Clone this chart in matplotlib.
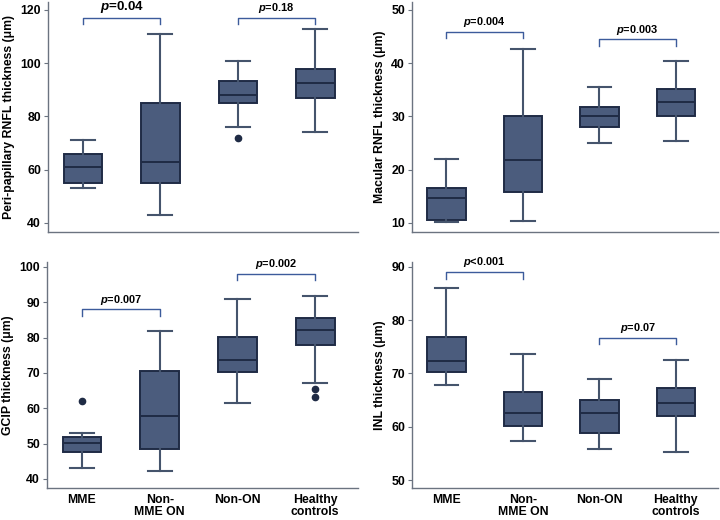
import matplotlib
matplotlib.use("Agg")
import matplotlib.pyplot as plt
import numpy as np

categories = ["MME", "Non-\nMME ON", "Non-ON", "Healthy\ncontrols"]

# stats per group: (whislo, q1, med, q3, whishi, fliers)
rnfl_stats = [(53, 55, 61, 66, 71, []),
              (43, 55, 63, 85, 111, []),
              (76, 85, 88, 93.4, 101, [72]),
              (74, 87, 92.5, 98, 113, [])]
mrnfl_stats = [(10.1, 10.6, 14.7, 16.6, 22, []),
               (10.4, 15.9, 21.9, 30, 42.6, []),
               (25, 28.1, 30, 31.8, 35.6, []),
               (25.4, 30.1, 32.8, 35.1, 40.4, [])]
gcip_stats = [(43.2, 47.6, 50.1, 51.9, 53.1, [62]),
              (42.3, 48.4, 57.8, 70.5, 81.8, []),
              (61.4, 70.2, 73.7, 80.2, 91, []),
              (67.1, 77.8, 82.1, 85.5, 91.9, [65.6, 63.2])]
inl_stats = [(67.8, 70.2, 72.4, 76.9, 86, []),
             (57.4, 60.2, 62.5, 66.6, 73.6, []),
             (55.8, 58.8, 62.6, 65.1, 68.9, []),
             (55.2, 62.1, 64.5, 67.2, 72.5, [])]

ylabels = ["Peri-papillary RNFL thickness (\u03bcm)", "Macular RNFL thickness (\u03bcm)",
           "GCIP thickness (\u03bcm)", "INL thickness (\u03bcm)"]
yticks = [[40, 60, 80, 100, 120], [10, 20, 30, 40, 50],
          [40, 50, 60, 70, 80, 90, 100], [50, 60, 70, 80, 90]]
ylims = [(36.6, 123), (8.3, 51.5), (37.45, 101.4), (48.5, 90.9)]
# brackets: (i, j, y_bar, y_tip, label, fontsize)
brackets = [
    [(0, 1, 116.9, 114.6, "=0.04", 9.6), (2, 3, 116.9, 114.6, "=0.18", 7.9)],
    [(0, 1, 45.9, 44.7, "=0.004", 7.9), (2, 3, 44.5, 43.25, "=0.003", 7.9)],
    [(0, 1, 88.0, 86.1, "=0.007", 7.9), (2, 3, 98.1, 96.2, "=0.002", 7.9)],
    [(0, 1, 89.1, 87.8, "<0.001", 7.9), (2, 3, 76.7, 75.5, "=0.07", 7.9)],
]
all_stats = [rnfl_stats, mrnfl_stats, gcip_stats, inl_stats]

plt.rcParams['font.family'] = ['Liberation Sans', 'DejaVu Sans']
plt.rcParams['mathtext.fontset'] = 'custom'
plt.rcParams['mathtext.it'] = 'Liberation Sans:italic:bold'
plt.rcParams['mathtext.bf'] = 'Liberation Sans:bold'
plt.rcParams['mathtext.rm'] = 'Liberation Sans:bold'
fig = plt.figure(figsize=(7.2, 5.2), dpi=100)

W, H = 720, 520
axes_px = [(48, 2, 358, 232), (412, 2, 718, 232), (47, 262, 358, 488), (412, 262, 718, 488)]

face = "#4b5c7d"
edge = "#1f2b45"
wcol = "#45546c"
bcol = "#3c5b9b"
FS = 8.8

for k in range(4):
    x0, y0, x1, y1 = axes_px[k]
    ax = fig.add_axes([x0 / W, 1 - y1 / H, (x1 - x0) / W, (y1 - y0) / H])
    stats = []
    for i, (lo, q1, med, q3, hi, fl) in enumerate(all_stats[k]):
        stats.append(dict(whislo=lo, q1=q1, med=med, q3=q3, whishi=hi, fliers=fl, label=categories[i]))
    ax.bxp(stats, positions=[1, 2, 3, 4], widths=0.5, patch_artist=True,
           boxprops=dict(facecolor=face, edgecolor=edge, linewidth=1.4),
           medianprops=dict(color=edge, linewidth=1.4),
           whiskerprops=dict(color=wcol, linewidth=1.5),
           capprops=dict(color=wcol, linewidth=1.5),
           flierprops=dict(marker='o', markerfacecolor=edge, markeredgecolor=edge, markersize=4.5),
           capwidths=0.31)
    ax.set_xlim(0.55, 4.55)
    ax.set_ylim(*ylims[k])
    ax.set_yticks(yticks[k])
    ax.set_yticklabels([str(t) for t in yticks[k]], fontsize=FS, fontweight='bold')
    ax.set_ylabel(ylabels[k], fontsize=FS, fontweight='bold', labelpad=4)
    for s in ['top', 'right']:
        ax.spines[s].set_visible(False)
    for s in ['left', 'bottom']:
        ax.spines[s].set_color("#6b7380")
        ax.spines[s].set_linewidth(1.0)
    ax.tick_params(axis='y', length=3, width=0.8, color="#6b7380", pad=2)
    ax.tick_params(axis='x', length=0, pad=4)
    if k >= 2:
        ax.set_xticks([1, 2, 3, 4])
        ax.set_xticklabels(categories, fontsize=FS, fontweight='bold', linespacing=1.0)
    else:
        ax.set_xticks([])
    rng = ylims[k][1] - ylims[k][0]
    for (i, j, yb, yt, lab, fs) in brackets[k]:
        ax.plot([i + 1, i + 1, j + 1, j + 1], [yt, yb, yb, yt], color=bcol, lw=1.0, clip_on=False)
        ax.text((i + j) / 2 + 1, yb + rng * 0.012, r"$\it{p}$" + lab, ha='center', va='bottom',
                fontsize=fs, fontweight='bold', clip_on=False)

fig.savefig("out.png", dpi=100)
